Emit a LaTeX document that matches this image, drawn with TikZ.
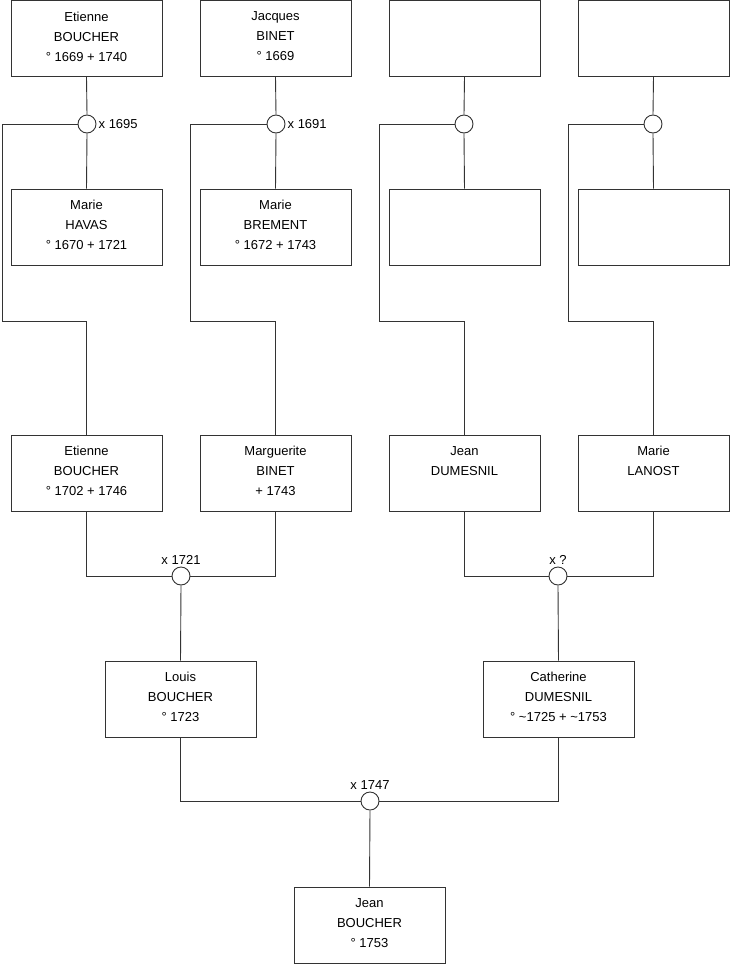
\documentclass[tikz,border=0pt]{standalone}
\usepackage{fontspec}
\setmainfont{Liberation Sans}
\usetikzlibrary{calc}
\usetikzlibrary{positioning}

\begin{document}
\begin{tikzpicture}[
		x=1pt, y=-1pt,
		p/.style = {rectangle, draw=black!80, line width=0.9pt, fill=white, minimum width=151, minimum height=76, align=center, inner sep=0, font=\fontsize{13}{20}\selectfont, execute at end node=\rule[-4pt]{0pt}{4pt}},
		m/.style = {circle, draw=black!80, line width=0.9pt, fill=white, minimum size=18, inner sep=0},
		l/.style = {font=\fontsize{13}{15}\selectfont, inner sep=2},
		r/.style = {draw=black!80, line width=0.9pt}
		]
		\useasboundingbox (0,0) rectangle (740,975);
		
		%Nodes
		\node[p]	(g1)	at	(86.5, 38.5)	{Etienne\\BOUCHER\\° 1669 + 1740};
		\node[p]	(g2)	at	(275.5, 38.5)	{Jacques\\BINET\\° 1669};
		\node[p]	(g3)	at	(464.5, 38.5)	{};
		\node[p]	(g4)	at	(653.5, 38.5)	{};
		\node[p]	(h1)	at	(86.5, 227)	{Marie\\HAVAS\\° 1670 + 1721};
		\node[p]	(h2)	at	(275.5, 227)	{Marie\\BREMENT\\° 1672 + 1743};
		\node[p]	(h3)	at	(464.5, 227)	{};
		\node[p]	(h4)	at	(653.5, 227)	{};
		\node[p]	(f1)	at	(86.5, 473)	{Etienne\\BOUCHER\\° 1702 + 1746};
		\node[p]	(f2)	at	(275.5, 473)	{Marguerite\\BINET\\+ 1743};
		\node[p]	(f3)	at	(464.5, 473)	{Jean\\DUMESNIL\\};
		\node[p]	(f4)	at	(653.5, 473)	{Marie\\LANOST\\};
		\node[p]	(s1)	at	(180.5, 699)	{Louis\\BOUCHER\\° 1723};
		\node[p]	(s2)	at	(558.5, 699)	{Catherine\\DUMESNIL\\° \textasciitilde1725 + \textasciitilde1753};
		\node[p]	(j)	at	(369.5, 925)	{Jean\\BOUCHER\\° 1753};
		
		\node[m]	(m1)	at	(87, 124)	{};
		\node[m]	(m2)	at	(276, 124)	{};
		\node[m]	(m3)	at	(464, 124)	{};
		\node[m]	(m4)	at	(653, 124)	{};
		\node[m]	(m5)	at	(181, 576)	{};
		\node[m]	(m6)	at	(558, 576)	{};
		\node[m]	(m7)	at	(370, 801)	{};
		
		\coordinate	(c1)	at	(2, 321);
		\coordinate	(c2)	at	(190, 321);
		\coordinate	(c3)	at	(379, 321);
		\coordinate	(c4)	at	(568, 321);
		
		%Labels
		\node[l, right=0 of m1]	{x 1695};
		\node[l, right=0 of m2]	{x 1691};
		\node[l, above=0 of m5]	{x 1721};
		\node[l, above=0 of m6]	{x ?};
		\node[l, above=0 of m7]	{x 1747};
		
		%Lines
		\draw[r]	(g1.south)	--	(m1.north);
		\draw[r]	(m1.south)	--	(h1.north);
		\draw[r]	(g2.south)	--	(m2.north);
		\draw[r]	(m2.south)	--	(h2.north);
		\draw[r]	(g3.south)	--	(m3.north);
		\draw[r]	(m3.south)	--	(h3.north);
		\draw[r]	(g4.south)	--	(m4.north);
		\draw[r]	(m4.south)	--	(h4.north);
		
		\draw[r]	(m1.west)	-|	(c1)	-|	(f1.north);
		\draw[r]	(m2.west)	-|	(c2)	-|	(f2.north);
		\draw[r]	(m3.west)	-|	(c3)	-|	(f3.north);
		\draw[r]	(m4.west)	-|	(c4)	-|	(f4.north);
		
		\draw[r]	(f1.south)	|-	(m5.west);
		\draw[r]	(f2.south)	|-	(m5.east);
		\draw[r]	(f3.south)	|-	(m6.west);
		\draw[r]	(f4.south)	|-	(m6.east);
		\draw[r]	(m5.south)	--	(s1.north);
		\draw[r]	(m6.south)	--	(s2.north);
		
		\draw[r]	(s1.south)	|-	(m7.west);
		\draw[r]	(s2.south)	|-	(m7.east);
		\draw[r]	(m7.south)	--	(j.north);
	\end{tikzpicture}
\end{document}
